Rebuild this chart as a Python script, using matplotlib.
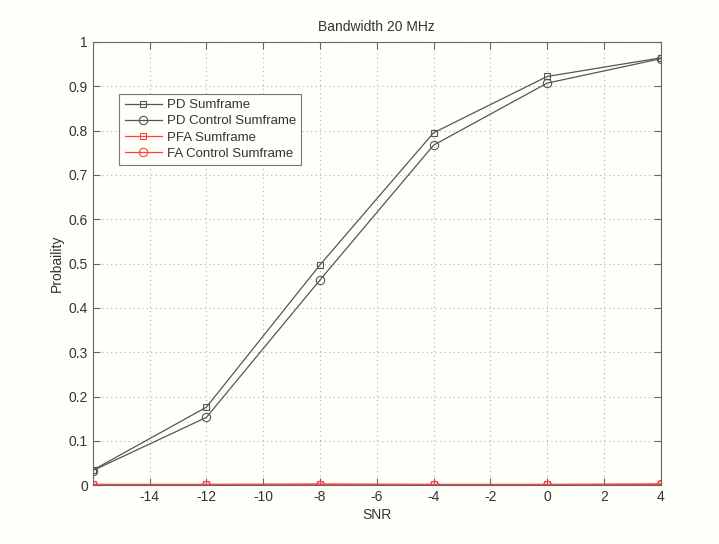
import matplotlib
matplotlib.use("Agg")
import matplotlib.pyplot as plt

snr = [-16, -12, -8, -4, 0, 4]
pd_sumframe = [0.034, 0.176, 0.497, 0.795, 0.922, 0.964]
pd_control = [0.033, 0.153, 0.463, 0.767, 0.907, 0.962]
pfa_sumframe = [0.002, 0.002, 0.003, 0.002, 0.002, 0.003]
fa_control = [0.001, 0.001, 0.001, 0.001, 0.001, 0.002]

xticks = [-14, -12, -10, -8, -6, -4, -2, 0, 2, 4]
yticks = [0, 0.1, 0.2, 0.3, 0.4, 0.5, 0.6, 0.7, 0.8, 0.9, 1]
ytick_labels = ["0", "0.1", "0.2", "0.3", "0.4", "0.5", "0.6", "0.7", "0.8", "0.9", "1"]

plt.rcParams["font.family"] = ["Liberation Sans", "DejaVu Sans"]
plt.rcParams["axes.unicode_minus"] = False

bg = "#fffffa"
fig = plt.figure(figsize=(7.19, 5.44), dpi=100, facecolor=bg)
ax = fig.add_axes([0.129, 0.108, 0.79, 0.815], facecolor=bg)

gray = "#555555"
red = "#ff4040"
ms = 5
ax.plot(snr, pd_sumframe, color=gray, lw=0.9, marker="s", ms=ms, mfc="none",
        mec=gray, mew=0.8, label="PD Sumframe")
ax.plot(snr, pd_control, color=gray, lw=0.9, marker="o", ms=ms + 1, mfc="none",
        mec=gray, mew=0.8, label="PD Control Sumframe")
ax.plot(snr, pfa_sumframe, color=red, lw=0.9, marker="s", ms=ms, mfc="none",
        mec=red, mew=0.8, label="PFA Sumframe")
ax.plot(snr, fa_control, color=red, lw=0.9, marker="o", ms=ms + 1, mfc="none",
        mec=red, mew=0.8, label="FA Control Sumframe")

ax.set_xlim(-16, 4)
ax.set_ylim(0, 1)
ax.set_xticks(xticks)
ax.set_yticks(yticks)
ax.set_yticklabels(ytick_labels)
ax.grid(True, color="#b0b0b0", linestyle=(0, (1, 3)), linewidth=0.8)
ax.tick_params(direction="in", top=True, right=True, length=5, color="#666666",
               labelsize=10, labelcolor="#333333")
for sp in ax.spines.values():
    sp.set_color("#666666")
    sp.set_linewidth(0.8)

ax.set_xlabel("SNR", fontsize=10, color="#333333", labelpad=3)
ax.set_ylabel("Probaility", fontsize=10, color="#333333", labelpad=3)
ax.set_title("Bandwidth 20 MHz", fontsize=10, color="#333333", pad=8)

leg = ax.legend(loc="upper left", bbox_to_anchor=(0.047, 0.883), fontsize=9.5,
                frameon=True, fancybox=False, framealpha=1, edgecolor="#777777",
                facecolor=bg, handlelength=2.8, borderpad=0.4, labelspacing=0.3,
                handletextpad=0.4, borderaxespad=0)
leg.get_frame().set_linewidth(0.8)
for t in leg.get_texts():
    t.set_color("#333333")

fig.savefig("out.png", dpi=100, facecolor=bg)
